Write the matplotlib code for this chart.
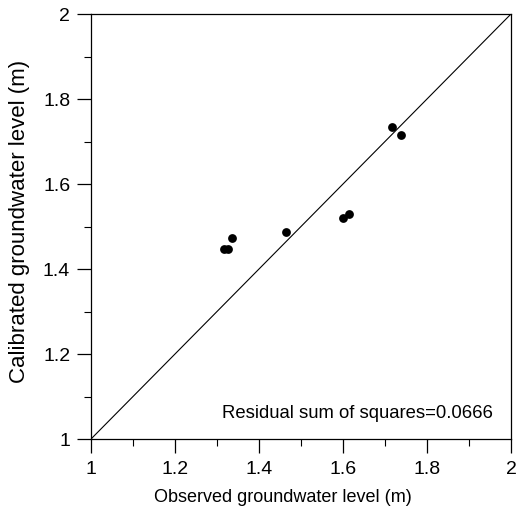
import matplotlib
matplotlib.use("Agg")
import matplotlib.pyplot as plt
from matplotlib.ticker import MultipleLocator, FuncFormatter

observed = [1.316, 1.327, 1.335, 1.464, 1.601, 1.614, 1.717, 1.738]
calibrated = [1.447, 1.447, 1.474, 1.487, 1.519, 1.529, 1.735, 1.715]
axis_range = [1, 2]
ticks = [1, 1.2, 1.4, 1.6, 1.8, 2]
annotation = "Residual sum of squares=0.0666"

plt.rcParams['font.family'] = ['Liberation Sans', 'DejaVu Sans']

fig = plt.figure(figsize=(5.23, 5.08), dpi=100)
ax = fig.add_axes([0.174, 0.1358, 0.803, 0.8366])

ax.plot(axis_range, axis_range, color='black', lw=0.8)
ax.scatter(observed, calibrated, s=40, color='black', zorder=3, linewidths=0)

ax.set_xlim(axis_range)
ax.set_ylim(axis_range)
ax.set_xticks(ticks)
ax.set_yticks(ticks)
fmt = FuncFormatter(lambda v, p: f"{v:g}")
ax.xaxis.set_major_formatter(fmt)
ax.yaxis.set_major_formatter(fmt)
ax.xaxis.set_minor_locator(MultipleLocator(0.1))
ax.yaxis.set_minor_locator(MultipleLocator(0.1))
ax.tick_params(which='major', direction='out', length=10, width=0.9, labelsize=14)
ax.tick_params(axis='x', which='major', pad=6)
ax.tick_params(axis='y', which='major', pad=5)
ax.tick_params(which='minor', direction='out', length=5, width=0.8)
ax.tick_params(top=False, right=False)
for s in ax.spines.values():
    s.set_linewidth(0.9)

fig.text(283 / 523, 1 - 497 / 508, "Observed groundwater level (m)", fontsize=13,
         ha='center', va='center')
fig.text(20 / 523, 1 - 221 / 508, "Calibrated groundwater level (m)", fontsize=16,
         ha='center', va='center', rotation=90)
ax.text(0.957, 0.061, annotation, transform=ax.transAxes, ha='right', va='center', fontsize=13.3)

fig.savefig("out.png", dpi=100)
